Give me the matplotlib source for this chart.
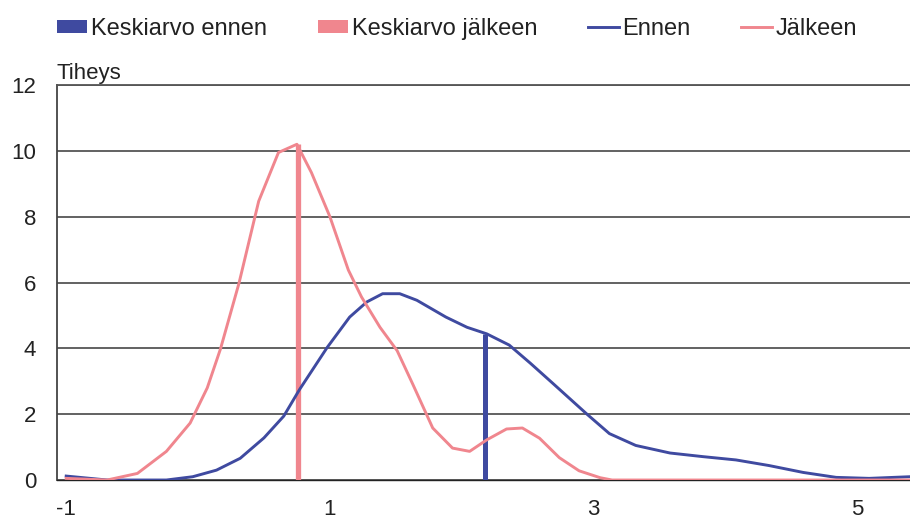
import matplotlib
matplotlib.use("Agg")
import matplotlib.pyplot as plt
from matplotlib.patches import Patch
from matplotlib.lines import Line2D

# density curves
ennen_x = [-1.0, -0.69, -0.24, -0.04, 0.14, 0.32, 0.50, 0.65, 0.77, 0.98, 1.15,
           1.28, 1.40, 1.53, 1.66, 1.88, 2.04, 2.19, 2.36, 2.52, 2.69, 2.95,
           3.12, 3.32, 3.58, 3.83, 4.08, 4.33, 4.59, 4.84, 5.09, 5.40]
ennen_y = [0.12, 0.0, 0.0, 0.1, 0.3, 0.66, 1.28, 1.94, 2.75, 4.03, 4.95,
           5.41, 5.66, 5.66, 5.46, 4.95, 4.64, 4.44, 4.1, 3.55, 2.94, 2.0,
           1.41, 1.05, 0.82, 0.71, 0.61, 0.44, 0.23, 0.08, 0.05, 0.1]

jalkeen_x = [-1.0, -0.69, -0.46, -0.24, -0.06, 0.07, 0.17, 0.31, 0.46, 0.61,
             0.75, 0.86, 1.0, 1.14, 1.24, 1.38, 1.51, 1.63, 1.78, 1.93, 2.06,
             2.19, 2.34, 2.46, 2.59, 2.74, 2.89, 3.05, 3.14, 5.40]
jalkeen_y = [0.05, 0.0, 0.2, 0.87, 1.73, 2.8, 3.98, 5.97, 8.47, 9.95,
             10.2, 9.34, 8.0, 6.38, 5.56, 4.64, 3.93, 2.9, 1.58, 0.97, 0.87,
             1.22, 1.55, 1.58, 1.27, 0.68, 0.28, 0.07, 0.0, 0.0]

# means (x position, height of the marker line)
mean_ennen = (2.18, 4.45)
mean_jalkeen = (0.76, 10.2)

labels = ["Keskiarvo ennen", "Keskiarvo jälkeen", "Ennen", "Jälkeen"]
x_ticks = [-1, 1, 3, 5]
y_ticks = [0, 2, 4, 6, 8, 10, 12]

blue = "#3f4aa0"
pink = "#f0868e"
grid_col = "#555555"

plt.rcParams["font.family"] = ["Liberation Sans", "DejaVu Sans"]
plt.rcParams["axes.unicode_minus"] = False

fig = plt.figure(figsize=(9.1, 5.2), dpi=100)
ax = fig.add_axes([0.0626, 0.0769, 0.9374, 0.7596])

ax.set_xlim(-1.07, 5.4)
ax.set_ylim(0, 12)
ax.set_yticks(y_ticks)
ax.set_xticks(x_ticks)
ax.yaxis.grid(True, color=grid_col, linewidth=1.3)
ax.set_axisbelow(True)

ax.vlines(mean_jalkeen[0], 0, mean_jalkeen[1], color=pink, linewidth=3.8, zorder=3)
ax.vlines(mean_ennen[0], 0, mean_ennen[1], color=blue, linewidth=3.6, zorder=3)
ax.plot(ennen_x, ennen_y, color=blue, linewidth=2.1, zorder=4)
ax.plot(jalkeen_x, jalkeen_y, color=pink, linewidth=2.1, zorder=4)

ax.spines["right"].set_visible(False)
ax.spines["top"].set_color(grid_col)
ax.spines["top"].set_linewidth(1.3)
ax.spines["left"].set_color("#444444")
ax.spines["left"].set_linewidth(1.3)
ax.spines["bottom"].set_color("#222222")
ax.spines["bottom"].set_linewidth(1.0)

ax.tick_params(axis="both", length=0, labelsize=16, labelcolor="#222222")
ax.tick_params(axis="y", pad=15)
ax.tick_params(axis="x", pad=14)

ax.text(0.0, 1.003, "Tiheys", transform=ax.transAxes, fontsize=16,
        ha="left", va="bottom", color="#222222")

handles = [Patch(facecolor=blue, edgecolor="none"),
           Patch(facecolor=pink, edgecolor="none"),
           Line2D([], [], color=blue, linewidth=2.1),
           Line2D([], [], color=pink, linewidth=2.1)]
fig.legend(handles, labels, loc="center", bbox_to_anchor=(0.502, 0.945),
           ncol=4, frameon=False, fontsize=17, handlelength=1.3,
           handleheight=0.45, handletextpad=0.15, columnspacing=2.15,
           borderaxespad=0, labelcolor="#222222")

fig.savefig("out.png", dpi=100)
